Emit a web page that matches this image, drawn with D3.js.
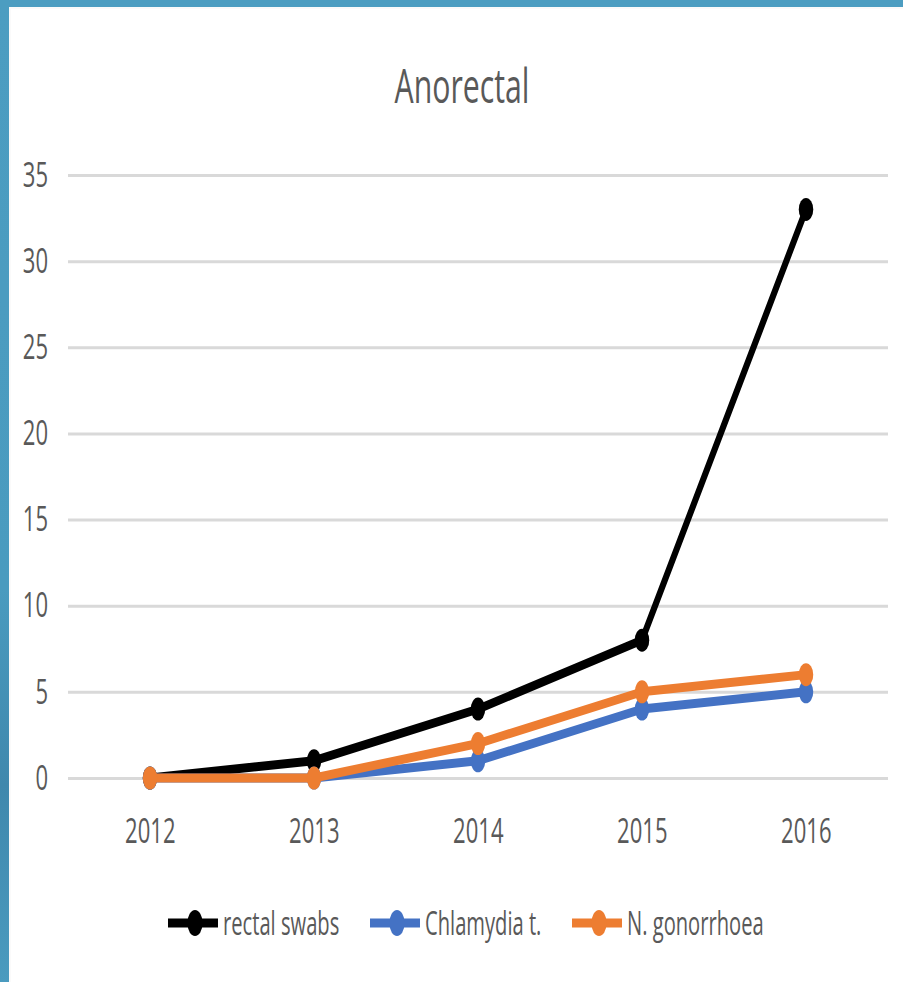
<!DOCTYPE html>
<html>
<head>
<meta charset="utf-8">
<script src="https://cdn.jsdelivr.net/npm/d3@7"></script>
<style>
  html, body { margin: 0; padding: 0; background: #fff; }
  text { font-family: "Open Sans", "Liberation Sans", sans-serif; fill: #595959; }
</style>
</head>
<body>
<svg id="chart" width="903" height="982"></svg>
<script>
// chart data
const years = ['2012', '2013', '2014', '2015', '2016'];
const rectalSwabs = [0, 1, 4, 8, 33];
const chlamydia = [0, 0, 1, 4, 5];
const gonorrhoea = [0, 0, 2, 5, 6];
const seriesNames = ['rectal swabs', 'Chlamydia t.', 'N. gonorrhoea'];
const seriesColors = ['#000000', '#4472C4', '#ED7D31'];
const yTicks = [0, 5, 10, 15, 20, 25, 30, 35];

const W = 903, H = 982;
// the picture is squeezed horizontally, so draw in a wider space and scale it down
const SX = 0.63;

const svg = d3.select('#chart');

// blue slide frame
const defs = svg.append('defs');
const grad = defs.append('linearGradient')
  .attr('id', 'frame').attr('x1', 0).attr('y1', 0).attr('x2', 0).attr('y2', 1);
grad.append('stop').attr('offset', '0%').attr('stop-color', '#4c9dc1');
grad.append('stop').attr('offset', '60%').attr('stop-color', '#4a9bbf');
grad.append('stop').attr('offset', '80%').attr('stop-color', '#3f88ad');
grad.append('stop').attr('offset', '100%').attr('stop-color', '#4a9bbf');

svg.append('rect').attr('width', W).attr('height', H).attr('fill', 'url(#frame)');
svg.append('rect').attr('x', 9).attr('y', 7).attr('width', W - 9).attr('height', H - 7)
  .attr('fill', '#fafafa');
svg.append('rect').attr('x', 11).attr('y', 9).attr('width', W - 11).attr('height', H - 9)
  .attr('fill', '#ffffff');

const g = svg.append('g').attr('transform', `scale(${SX},1)`);

const plotLeft = 68, plotRight = 888;

const x = d3.scalePoint()
  .domain(years)
  .range([plotLeft / SX, plotRight / SX])
  .padding(0.5);

const y = d3.scaleLinear().domain([0, 35]).range([778, 175]);

// title
g.append('text')
  .attr('x', 462 / SX)
  .attr('y', 103)
  .attr('text-anchor', 'middle')
  .attr('font-size', 48)
  .text('Anorectal');

// gridlines + y labels
const yAxis = g.append('g')
  .attr('transform', `translate(${plotLeft / SX},0)`)
  .call(d3.axisLeft(y).tickValues(yTicks).tickSize(-(plotRight - plotLeft) / SX).tickPadding(20 / SX));

yAxis.select('.domain').remove();
yAxis.selectAll('.tick line').attr('stroke', '#d9d9d9').attr('stroke-width', 3);
yAxis.selectAll('.tick text')
  .attr('font-size', 35)
  .attr('fill', '#595959')
  .attr('font-family', '"Open Sans", sans-serif');

// x labels
const xAxis = g.append('g')
  .attr('transform', `translate(0,${y(0)})`)
  .call(d3.axisBottom(x).tickSize(0).tickPadding(40));

xAxis.select('.domain').remove();
xAxis.selectAll('.tick text')
  .attr('font-size', 35)
  .attr('fill', '#595959')
  .attr('font-family', '"Open Sans", sans-serif');

// lines
const seriesData = [rectalSwabs, chlamydia, gonorrhoea];
const line = d3.line()
  .x((d, i) => x(years[i]))
  .y(d => y(d));

// draw in order so orange ends on top like the original
seriesData.forEach((vals, s) => {
  const sg = g.append('g');
  sg.append('path')
    .datum(vals)
    .attr('d', line)
    .attr('fill', 'none')
    .attr('stroke', seriesColors[s])
    .attr('stroke-width', 9)
    .attr('stroke-linejoin', 'round');
  sg.selectAll('circle')
    .data(vals)
    .enter()
    .append('circle')
    .attr('cx', (d, i) => x(years[i]))
    .attr('cy', d => y(d))
    .attr('r', 11.5)
    .attr('fill', seriesColors[s]);
});

// legend
const legend = g.append('g').attr('transform', `translate(0,923)`);
seriesNames.forEach((name, s) => {
  const x0 = (168 + s * 202) / SX;
  const item = legend.append('g').attr('transform', `translate(${x0},0)`);
  item.append('line')
    .attr('x1', 0).attr('x2', 50 / SX)
    .attr('y1', 0).attr('y2', 0)
    .attr('stroke', seriesColors[s])
    .attr('stroke-width', 9);
  item.append('ellipse')
    .attr('cx', 27 / SX).attr('cy', 0).attr('rx', 12).attr('ry', 13)
    .attr('fill', seriesColors[s]);
  item.append('text')
    .attr('x', 55 / SX)
    .attr('y', 12)
    .attr('font-size', 32)
    .text(name);
});
</script>
</body>
</html>
